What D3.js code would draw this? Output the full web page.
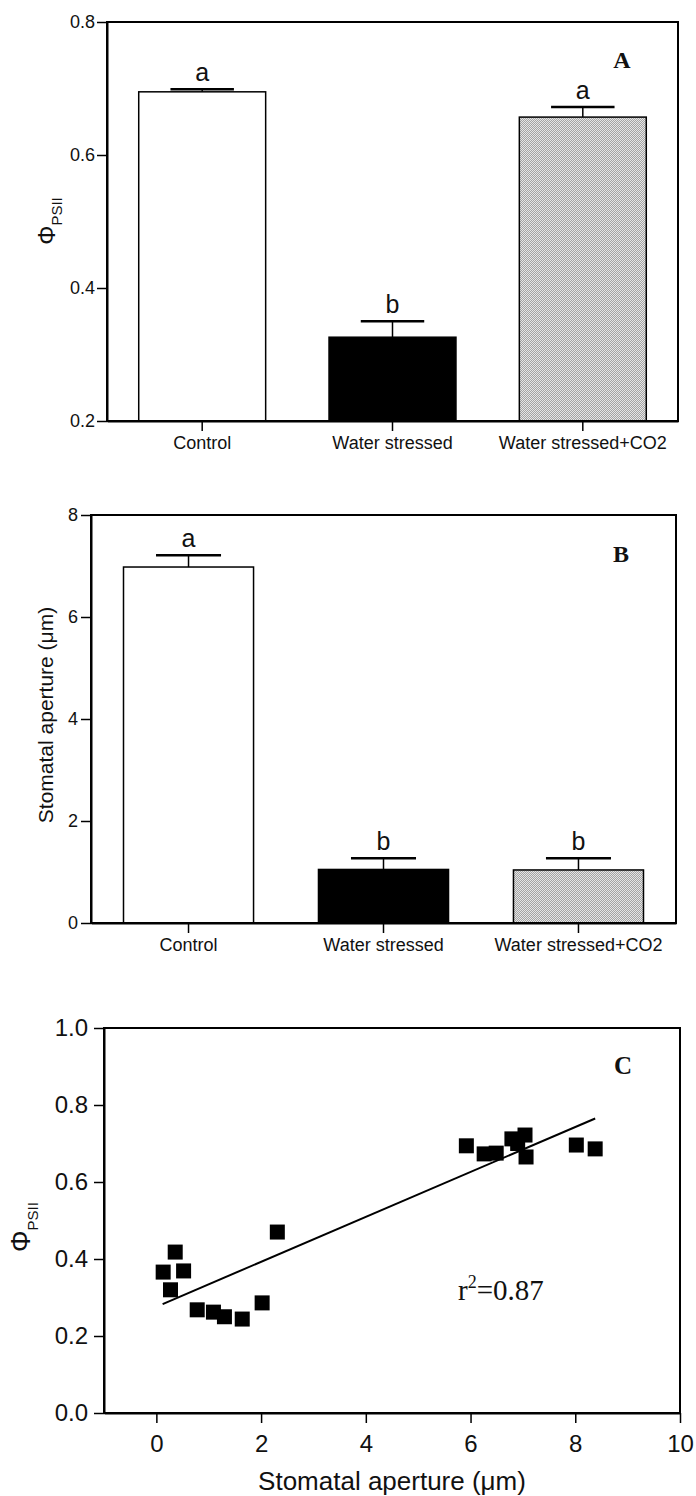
<!DOCTYPE html>
<html lang="en">
<head>
<meta charset="UTF-8">
<title>PSII yield and stomatal aperture</title>
<script src="https://d3js.org/d3.v7.min.js"></script>
<style>
  body { margin: 0; background: #fff; }
  svg { display: block; }
  .sans { font-family: "Liberation Sans", Arial, sans-serif; }
  .serif { font-family: "Liberation Serif", "Times New Roman", serif; }
</style>
</head>
<body>
<div id="chart"></div>
<script>
// ---- data ----
const categories = ["Control", "Water stressed", "Water stressed+CO2"];

const psiiMeans = [0.695, 0.326, 0.657];
const psiiErrors = [0.004, 0.024, 0.015];
const psiiLetters = ["a", "b", "a"];
const psiiTicks = [0.2, 0.4, 0.6, 0.8];

const apertureMeans = [6.98, 1.05, 1.04];
const apertureErrors = [0.23, 0.22, 0.23];
const apertureLetters = ["a", "b", "b"];
const apertureTicks = [0, 2, 4, 6, 8];

const scatterX = [0.13, 0.36, 0.52, 0.27, 0.78, 1.09, 1.30, 1.64, 2.02, 2.31,
                  5.92, 6.26, 6.49, 6.79, 7.04, 6.90, 7.06, 8.02, 8.38];
const scatterY = [0.366, 0.418, 0.369, 0.320, 0.268, 0.262, 0.250, 0.244, 0.286, 0.470,
                  0.694, 0.673, 0.675, 0.712, 0.722, 0.700, 0.665, 0.696, 0.686];
const fitX = [0.12, 8.38];
const fitY = [0.283, 0.765];
const scatterXTicks = [0, 2, 4, 6, 8, 10];
const scatterYTicks = [0, 0.2, 0.4, 0.6, 0.8, 1.0];

const width = 696, height = 1496;

const svg = d3.select("#chart").append("svg")
    .attr("width", width)
    .attr("height", height);

// fine diagonal hatching for the CO2 bars
const defs = svg.append("defs");
const pat = defs.append("pattern")
    .attr("id", "hatch")
    .attr("patternUnits", "userSpaceOnUse")
    .attr("width", 2).attr("height", 2);
pat.append("rect").attr("width", 2).attr("height", 2).attr("fill", "#e6e6e6");
pat.append("path")
    .attr("d", "M-0.5,0.5 l1,-1 M0,2 l2,-2 M1.5,2.5 l1,-1")
    .attr("stroke", "#777")
    .attr("stroke-width", 0.6);

const fills = ["#fff", "#000", "url(#hatch)"];

function styleAxis(g) {
    g.select(".domain").attr("stroke", "#000").attr("stroke-width", 2);
    g.selectAll(".tick line").attr("stroke", "#000").attr("stroke-width", 1.5);
    g.selectAll(".tick text").attr("fill", "#111");
}

function yLabelPhi(x, y, size, subSize) {
    const t = svg.append("text")
        .attr("class", "sans")
        .attr("transform", `translate(${x},${y}) rotate(-90)`)
        .attr("text-anchor", "middle")
        .attr("font-size", size)
        .attr("fill", "#111");
    t.append("tspan").text("Φ");
    t.append("tspan").attr("font-size", subSize).attr("dy", size * 0.3).text("PSII");
}

function barPanel(opt) {
    const { left, right, top, bottom, domain, ticks, fmt, means, errors, letters } = opt;

    const x = d3.scaleBand()
        .domain(categories)
        .range([left, right])
        .paddingInner(0.333)
        .paddingOuter(0.1667);

    const y = d3.scaleLinear().domain(domain).range([bottom, top]);

    const data = categories.map((c, i) => ({ c, m: means[i], e: errors[i], l: letters[i], f: fills[i] }));

    svg.append("g").selectAll("rect")
        .data(data).join("rect")
        .attr("x", d => x(d.c))
        .attr("width", x.bandwidth())
        .attr("y", d => y(d.m))
        .attr("height", d => y(domain[0]) - y(d.m))
        .attr("fill", d => d.f)
        .attr("stroke", "#000")
        .attr("stroke-width", 1.5);

    // error bars, upward only
    const eb = svg.append("g").selectAll("g").data(data).join("g");
    eb.append("line")
        .attr("x1", d => x(d.c) + x.bandwidth() / 2)
        .attr("x2", d => x(d.c) + x.bandwidth() / 2)
        .attr("y1", d => y(d.m))
        .attr("y2", d => y(d.m + d.e))
        .attr("stroke", "#000").attr("stroke-width", 1.5);
    eb.append("line")
        .attr("x1", d => x(d.c) + x.bandwidth() / 4)
        .attr("x2", d => x(d.c) + x.bandwidth() * 3 / 4)
        .attr("y1", d => y(d.m + d.e))
        .attr("y2", d => y(d.m + d.e))
        .attr("stroke", "#000").attr("stroke-width", 2.5);
    eb.append("text")
        .attr("class", "sans")
        .attr("x", d => x(d.c) + x.bandwidth() / 2)
        .attr("y", d => y(d.m + d.e) - 8)
        .attr("text-anchor", "middle")
        .attr("font-size", 25)
        .attr("fill", "#111")
        .text(d => d.l);

    // frame
    svg.append("rect")
        .attr("x", left).attr("y", top)
        .attr("width", right - left).attr("height", bottom - top)
        .attr("fill", "none").attr("stroke", "#000").attr("stroke-width", 2);

    svg.append("g")
        .attr("class", "sans")
        .attr("transform", `translate(0,${bottom})`)
        .call(d3.axisBottom(x).tickSize(10).tickSizeOuter(0).tickPadding(5))
        .call(g => g.attr("font-size", 18).attr("font-family", null))
        .call(styleAxis);

    svg.append("g")
        .attr("class", "sans")
        .attr("transform", `translate(${left},0)`)
        .call(d3.axisLeft(y).tickValues(ticks).tickFormat(fmt).tickSize(10).tickSizeOuter(0).tickPadding(opt.pad))
        .call(g => g.attr("font-size", 18).attr("font-family", null))
        .call(styleAxis);

    svg.append("text")
        .attr("class", "serif")
        .attr("x", opt.tagX).attr("y", opt.tagY)
        .attr("text-anchor", "middle")
        .attr("font-weight", "bold")
        .attr("font-size", 24)
        .attr("fill", "#111")
        .text(opt.tag);
}

// ---- panel A ----
barPanel({
    left: 107, right: 678, top: 22, bottom: 421,
    domain: [0.2, 0.8], ticks: psiiTicks, fmt: d3.format(".1f"), pad: 2,
    means: psiiMeans, errors: psiiErrors, letters: psiiLetters,
    tag: "A", tagX: 622, tagY: 68
});
yLabelPhi(55, 221, 24, 15);

// ---- panel B ----
barPanel({
    left: 91, right: 676, top: 515, bottom: 923,
    domain: [0, 8], ticks: apertureTicks, fmt: d3.format("d"), pad: 3,
    means: apertureMeans, errors: apertureErrors, letters: apertureLetters,
    tag: "B", tagX: 621, tagY: 562
});
svg.append("text")
    .attr("class", "sans")
    .attr("transform", "translate(53,715) rotate(-90)")
    .attr("text-anchor", "middle")
    .attr("font-size", 21)
    .attr("fill", "#111")
    .text("Stomatal aperture (μm)");

// ---- panel C ----
{
    const left = 104, right = 680, top = 1028, bottom = 1413;
    const x = d3.scaleLinear().domain([-1, 10]).range([left, right]);
    const y = d3.scaleLinear().domain([0, 1]).range([bottom, top]);

    svg.append("rect")
        .attr("x", left).attr("y", top)
        .attr("width", right - left).attr("height", bottom - top)
        .attr("fill", "none").attr("stroke", "#000").attr("stroke-width", 2);

    svg.append("g")
        .attr("class", "sans")
        .attr("transform", `translate(0,${bottom})`)
        .call(d3.axisBottom(x).tickValues(scatterXTicks).tickFormat(d3.format("d")).tickSize(10).tickSizeOuter(0).tickPadding(12))
        .call(g => g.attr("font-size", 24).attr("font-family", null))
        .call(styleAxis);

    svg.append("g")
        .attr("class", "sans")
        .attr("transform", `translate(${left},0)`)
        .call(d3.axisLeft(y).tickValues(scatterYTicks).tickFormat(d3.format(".1f")).tickSize(10).tickSizeOuter(0).tickPadding(6))
        .call(g => g.attr("font-size", 24).attr("font-family", null))
        .call(styleAxis);

    const pts = scatterX.map((v, i) => [v, scatterY[i]]);
    const s = 15;
    svg.append("g").selectAll("rect")
        .data(pts).join("rect")
        .attr("x", d => x(d[0]) - s / 2)
        .attr("y", d => y(d[1]) - s / 2)
        .attr("width", s).attr("height", s)
        .attr("fill", "#000");

    svg.append("path")
        .datum(fitX.map((v, i) => [v, fitY[i]]))
        .attr("fill", "none")
        .attr("stroke", "#000")
        .attr("stroke-width", 2)
        .attr("d", d3.line().x(d => x(d[0])).y(d => y(d[1])));

    const r2 = svg.append("text")
        .attr("class", "serif")
        .attr("x", 458).attr("y", 1300)
        .attr("font-size", 29)
        .attr("fill", "#111");
    r2.append("tspan").text("r");
    r2.append("tspan").attr("font-size", 18).attr("dy", -12).text("2");
    r2.append("tspan").attr("dy", 12).text("=0.87");

    svg.append("text")
        .attr("class", "serif")
        .attr("x", 623).attr("y", 1074)
        .attr("text-anchor", "middle")
        .attr("font-weight", "bold")
        .attr("font-size", 25)
        .attr("fill", "#111")
        .text("C");

    svg.append("text")
        .attr("class", "sans")
        .attr("x", 392).attr("y", 1490)
        .attr("text-anchor", "middle")
        .attr("font-size", 26)
        .attr("fill", "#111")
        .text("Stomatal aperture (μm)");

    yLabelPhi(30, 1227, 27, 15);
}
</script>
</body>
</html>
